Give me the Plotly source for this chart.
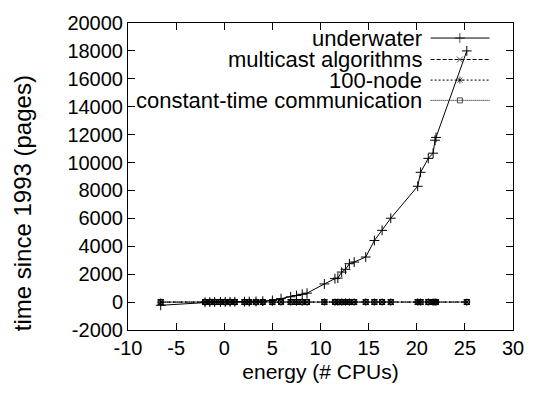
import plotly.graph_objects as go

# shared x values (energy, # CPUs)
energy = [-6.6, -2.0, -1.5, -1.0, -0.4, 0.1, 0.6, 1.1, 2.1, 2.6, 3.3, 4.0, 5.0, 5.9,
          6.9, 7.5, 8.1, 8.6, 10.4, 11.5, 11.8, 12.2, 12.6, 13.0, 13.5, 14.7, 15.6,
          16.4, 17.3, 20.1, 20.4, 21.2, 21.7, 21.9, 22.0, 25.2]

underwater = [-230, -10, 0, 5, 10, 15, 20, 25, 30, 40, 50, 70, 120, 250, 380, 470,
              560, 640, 1300, 1680, 1720, 2150, 2350, 2750, 2870, 3230, 4410, 5140,
              6010, 8300, 9300, 10300, 10670, 11600, 11800, 18000]
multicast = [0, 5, 3, 8, 2, 6, 4, 9, 1, 7, 3, 5, 8, 2, 6, 4, 7, 3, 5, 9, 2, 6, 4, 8,
             3, 5, 7, 2, 6, 4, 8, 3, 5, 7, 2, 4]
node100 = [2, 4, 6, 1, 7, 3, 5, 2, 8, 4, 6, 1, 3, 7, 5, 2, 4, 6, 8, 1, 3, 5, 7, 2,
           4, 6, 1, 8, 3, 5, 2, 7, 4, 6, 1, 3]
consttime = [1, 3, 2, 4, 5, 1, 3, 6, 2, 4, 1, 5, 3, 2, 4, 6, 1, 3, 2, 5, 4, 1, 3, 2,
             6, 4, 2, 5, 1, 3, 4, 2, 6, 1, 5, 3]

x_ticks = [-10, -5, 0, 5, 10, 15, 20, 25, 30]
x_ticklabels = ["-10", "-5", "0", "5", "10", "15", "20", "25", "30"]
y_ticks = [-2000, 0, 2000, 4000, 6000, 8000, 10000, 12000, 14000, 16000, 18000, 20000]
y_ticklabels = ["-2000", "0", "2000", "4000", "6000", "8000", "10000", "12000",
                "14000", "16000", "18000", "20000"]

names = ["underwater", "multicast algorithms", "100-node", "constant-time communication"]
series = [underwater, multicast, node100, consttime]
symbols = ["cross-thin-open", "x-thin-open", "asterisk-open", "square-open"]
msizes = [7, 6, 6, 5]
dashes = ["solid", "4px,2px", "2px,2px", "1px,1px"]

FONT = "Liberation Sans, Arial, sans-serif"

fig = go.Figure()
for name, ys, sym, ms, dash in zip(names, series, symbols, msizes, dashes):
    fig.add_trace(go.Scatter(
        x=energy, y=ys, mode="lines+markers", name=name, showlegend=False,
        line=dict(color="black", width=1, dash=dash),
        marker=dict(symbol=sym, size=ms, color="black", line=dict(color="black", width=1)),
    ))

# gnuplot-style key: text right-aligned, sample to the right
key_rows = [0.951, 0.881, 0.814, 0.748]
for name, sym, ms, dash, ry in zip(names, symbols, msizes, dashes, key_rows):
    fig.add_trace(go.Scatter(
        x=[0.786, 0.862, 0.939], y=[ry, ry, ry], xaxis="x2", yaxis="y2",
        mode="lines+markers", showlegend=False, hoverinfo="skip",
        line=dict(color="black", width=1, dash=dash),
        marker=dict(symbol=sym, size=[0, ms, 0], color="black",
                    line=dict(color="black", width=1)),
    ))
    fig.add_annotation(x=0.768, y=ry, xref="x2", yref="y2", text=name,
                       showarrow=False, xanchor="right", yanchor="middle",
                       font=dict(family=FONT, size=22, color="black"))

# y-axis title placed like gnuplot's
fig.add_annotation(x=20, y=201, xref="paper", yref="paper", text="time since 1993 (pages)",
                   showarrow=False, textangle=-90, xanchor="center", yanchor="middle",
                   font=dict(family=FONT, size=24, color="black"))

axis_common = dict(showline=True, linecolor="black", linewidth=1, mirror="ticks",
                   ticks="inside", ticklen=7, tickcolor="black", showgrid=False,
                   zeroline=False, tickfont=dict(family=FONT, size=20, color="black"))

fig.update_layout(
    width=536, height=394,
    margin=dict(l=128, r=15, t=18, b=64),
    paper_bgcolor="white", plot_bgcolor="white",
    xaxis=dict(range=[-10, 30], tickvals=x_ticks, ticktext=x_ticklabels,
               title=dict(text="energy (# CPUs)", font=dict(family=FONT, size=21, color="black"), standoff=6),
               **axis_common),
    yaxis=dict(range=[-2000, 20000], tickvals=y_ticks, ticktext=y_ticklabels,
               **axis_common),
    xaxis2=dict(overlaying="x", range=[0, 1], visible=False),
    yaxis2=dict(overlaying="y", range=[0, 1], visible=False),
)

# convert the y title annotation position from pixels to paper fraction
pw, ph = 536 - 128 - 15, 394 - 18 - 64
fig.layout.annotations[-1].x = (20 - 128) / pw
fig.layout.annotations[-1].y = (394 - 64 - 201) / ph

fig.write_html("out.html")
